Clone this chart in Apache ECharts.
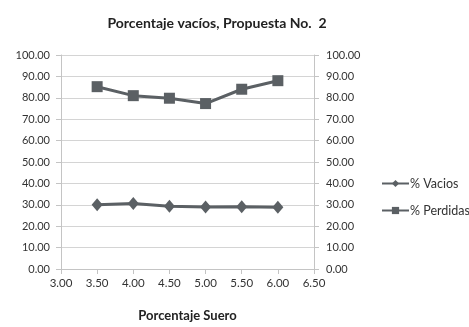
<!DOCTYPE html>
<html><head><meta charset="utf-8">
<script src="https://cdn.jsdelivr.net/npm/echarts@6/dist/echarts.min.js"></script>
<style>html,body{margin:0;padding:0;background:#fff}#c{width:469px;height:327px}</style>
</head><body><div id="c"></div>
<script>
const xValues = [3.5, 4.0, 4.5, 5.0, 5.5, 6.0];
const vacios = [30.0, 30.6, 29.3, 29.0, 29.1, 28.9];
const perdidas = [85.2, 81.0, 79.8, 77.3, 84.0, 88.0];
const seriesNames = ['% Vacios', '% Perdidas'];
const titleText = 'Porcentaje vacíos, Propuesta No.  2';
const xTitle = 'Porcentaje Suero';

const FONT = 'Lato';
const lineColor = '#5b6064';
const gridColor = '#d4d4d4';
const axisColor = '#c4c4c4';
const textColor = '#333';

const chart = echarts.init(document.getElementById('c'), null, {renderer: 'canvas'});
const yAxisBase = {
  type: 'value', min: 0, max: 100, interval: 10,
  axisLine: {show: true, lineStyle: {color: axisColor}},
  axisTick: {show: true, length: 5, lineStyle: {color: axisColor}},
  splitLine: {show: false},
  axisLabel: {formatter: v => v.toFixed(2), color: textColor, fontFamily: FONT, fontSize: 11, margin: 11}
};
chart.setOption({
  animation: false,
  title: {text: titleText, left: 212, top: 11, textAlign: 'center',
    textStyle: {fontFamily: FONT, fontSize: 14, fontWeight: 'bold', color: '#222'}},
  grid: {left: 61, right: 155, top: 55, bottom: 54, containLabel: false},
  legend: {
    orient: 'vertical', left: 376, top: 172, itemGap: 14, itemWidth: 27, itemHeight: 9,
    data: seriesNames.map(n => ({name: n})),
    textStyle: {fontFamily: FONT, fontSize: 12.5, color: textColor, padding: [0,0,0,-4]}
  },
  xAxis: {
    type: 'value', min: 3.0, max: 6.5, interval: 0.5,
    name: xTitle, nameLocation: 'middle', nameGap: 40,
    nameTextStyle: {fontFamily: FONT, fontSize: 13, fontWeight: 'bold', color: '#222'},
    axisLine: {show: true, onZero: false, lineStyle: {color: axisColor}},
    axisTick: {show: true, length: 5, lineStyle: {color: axisColor}},
    splitLine: {show: false},
    axisLabel: {formatter: v => v.toFixed(2), color: textColor, fontFamily: FONT, fontSize: 11.5, margin: 8}
  },
  yAxis: [
    Object.assign({}, yAxisBase, {position: 'left', splitLine: {show: true, lineStyle: {color: gridColor}}}),
    Object.assign({}, yAxisBase, {position: 'right', axisLabel: Object.assign({}, yAxisBase.axisLabel, {align: 'left', margin: 12})})
  ],
  series: [
    {name: seriesNames[0], type: 'line', yAxisIndex: 0, data: xValues.map((x,i)=>[x, vacios[i]]),
     symbol: 'diamond', symbolSize: [11, 13], lineStyle: {color: lineColor, width: 3},
     itemStyle: {color: lineColor}},
    {name: seriesNames[1], type: 'line', yAxisIndex: 0, data: xValues.map((x,i)=>[x, perdidas[i]]),
     symbol: 'rect', symbolSize: 11, lineStyle: {color: lineColor, width: 3},
     itemStyle: {color: lineColor}}
  ]
});
</script></body></html>
